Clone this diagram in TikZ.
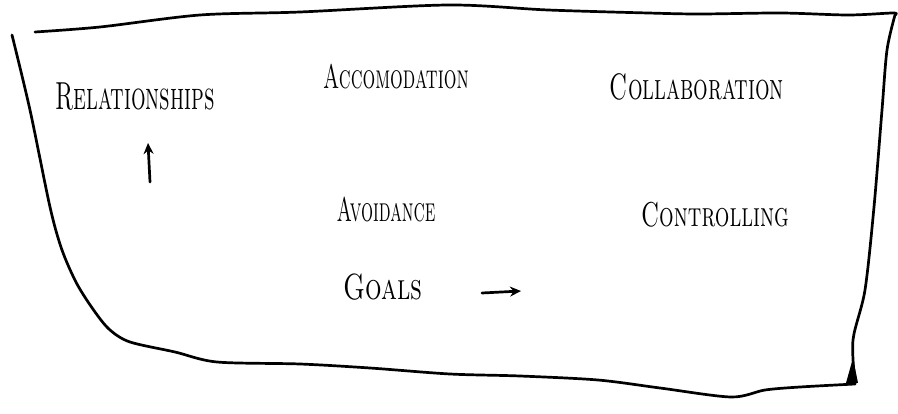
\documentclass[tikz,border=0pt]{standalone}
\usepackage{fontspec}
\usetikzlibrary{arrows.meta}
\newcommand{\tallsc}[2]{\scalebox{1}[#1]{\scshape #2}}
\begin{document}
\begin{tikzpicture}[x=1pt,y=-1pt,line cap=round,line join=round,
  sketch/.style={line width=2.7pt,black},
  lbl/.style={inner sep=0pt,anchor=center},
  axisarrow/.style={line width=2.7pt,-{Stealth[length=11pt,width=10pt]}}]
\useasboundingbox (0,0) rectangle (898,414);
% frame: left and bottom
\draw[sketch] plot[smooth,tension=0.5] coordinates {(12,35) (30,110) (50,207) (62,250) (77,284) (95,312) (110,330) (130,342) (175,352) (217,362) (300,364) (370,368) (450,374) (520,376) (598,380) (660,388) (731,397) (765,390) (800,387) (855,384)};
% right side
\draw[sketch] plot[smooth,tension=0.5] coordinates {(855,384) (853,340) (865,290) (874,207) (882,110) (887,50) (895,15)};
% top
\draw[sketch] plot[smooth,tension=0.5] coordinates {(895,15) (893,13) (848,15) (781,13) (700,14) (648,13) (548,10) (448,5) (300,12) (200,15) (100,27) (35,32)};
% small wedge at bottom right
\fill[black] (846,383) -- (853,358) -- (858,383) -- cycle;
% labels
\node[lbl,font=\fontsize{23}{25}\selectfont] (rel) at (135,97) {\tallsc{1.7}{Relationships}};
\node[lbl,font=\fontsize{20}{22}\selectfont] (acc) at (396,77) {\tallsc{1.7}{Accomodation}};
\node[lbl,font=\fontsize{23}{25}\selectfont] (col) at (697,87) {\tallsc{1.6}{Collaboration}};
\node[lbl,font=\fontsize{19}{21}\selectfont] (avo) at (386,209) {\tallsc{1.8}{Avoidance}};
\node[lbl,font=\fontsize{23}{25}\selectfont] (con) at (715,215) {\tallsc{1.5}{Controlling}};
\node[lbl,font=\fontsize{26}{28}\selectfont] (goa) at (383,287) {\tallsc{1.4}{Goals}};
% axis arrows
\coordinate (ua1) at (150,182);
\coordinate (ua2) at (148,143);
\coordinate (ra1) at (482,293);
\coordinate (ra2) at (521,291);
\draw[axisarrow] (ua1) -- (ua2);
\draw[axisarrow] (ra1) -- (ra2);
\end{tikzpicture}
\end{document}
